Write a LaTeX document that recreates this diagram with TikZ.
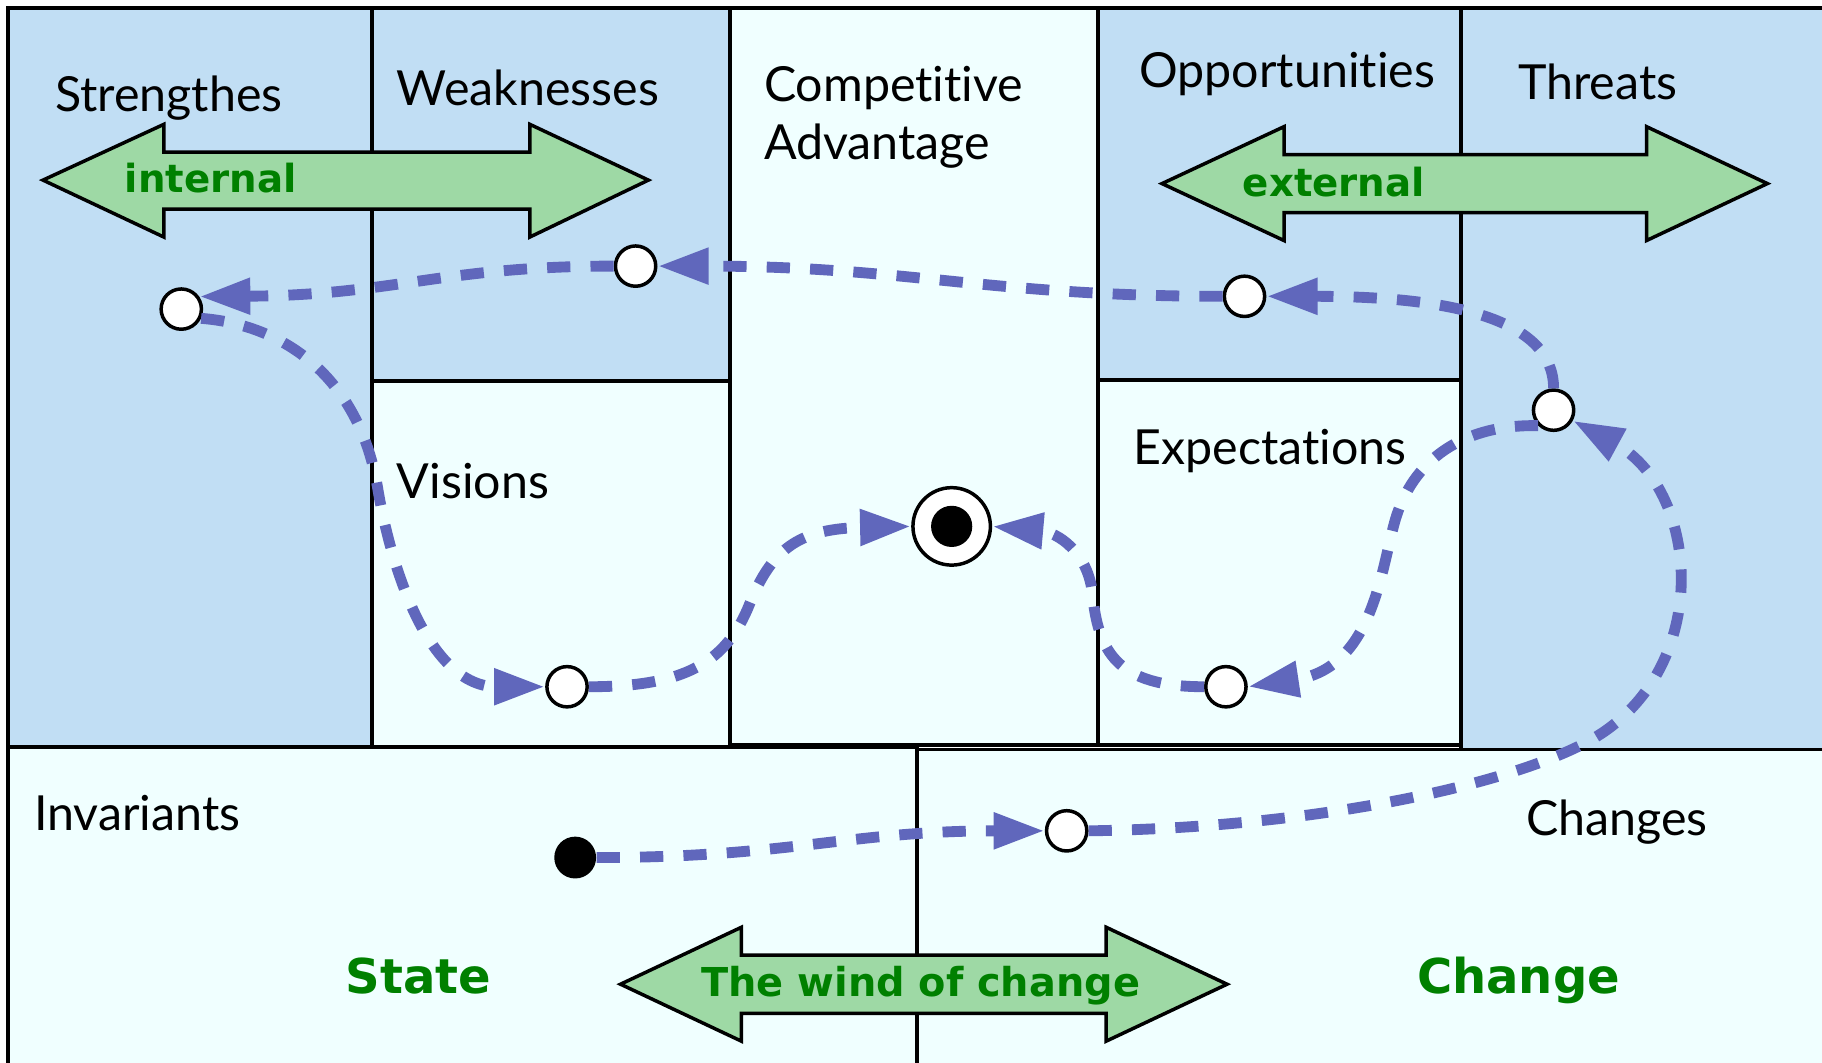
\documentclass[tikz,border=0pt]{standalone}
\usepackage{fontspec}
\setmainfont{Lato}[Ligatures={NoCommon,NoContextual}]
\newfontfamily\greenfont{DejaVu Sans}
\usetikzlibrary{arrows.meta}

\definecolor{swotblue}{RGB}{193,222,244}
\definecolor{azurefill}{RGB}{240,255,255}
\definecolor{arrowgreen}{RGB}{158,217,165}
\definecolor{textgreen}{RGB}{0,128,0}
\definecolor{flowblue}{RGB}{96,103,188}

\tikzset{every picture/.style={line width=0.75pt}}
\tikzset{
  bluebox/.style={fill=swotblue, draw=black, line width=2.5pt},
  lightbox/.style={fill=azurefill, draw=black, line width=2.5pt},
  bigarrow/.style={fill=arrowgreen, draw=black, line width=2.25pt, line join=miter},
  txt/.style={anchor=base west, inner sep=0pt, font=\fontsize{31.2}{37}\selectfont},
  greentxt/.style={anchor=base west, inner sep=0pt, text=textgreen, font=\greenfont\bfseries\fontsize{25}{30}\selectfont},
  bigtxt/.style={greentxt, font=\greenfont\bfseries\fontsize{31}{37}\selectfont},
  state/.style={circle, draw=black, fill=white, line width=2.25pt, minimum size=26pt, inner sep=0pt},
  flow/.style={draw=flowblue, line width=7pt, dash pattern=on 15pt off 13pt, -{Triangle[length=33pt,width=22pt]}}
}

\begin{document}
\begin{tikzpicture}[x=0.75pt,y=0.75pt,yscale=-1,xscale=1]
%set diagram to 1568 x 914
\useasboundingbox (0,0) rectangle (1568,914);

% Shape: Rectangle
\draw[bluebox] (7,7) rectangle (320,643);
\draw[bluebox] (320,7) rectangle (628,328);
\draw[lightbox] (320,328) rectangle (628,643);
\draw[lightbox] (628,7) rectangle (945,641);
\draw[bluebox] (945,7) rectangle (1257,327);
\draw[lightbox] (945,327) rectangle (1257,641);
\draw[bluebox] (1257,7) rectangle (1575,645);
\draw[lightbox] (7,643) rectangle (789,917);
\draw[lightbox] (789,645) rectangle (1575,917);

% Double Arrow
\draw[bigarrow] (37,155) -- (141,107) -- (141,131) -- (456,131) -- (456,107) -- (558,155) -- (456,204) -- (456,180) -- (141,180) -- (141,204) -- cycle;
\draw[bigarrow] (1000,158) -- (1105,109) -- (1105,133) -- (1417,133) -- (1417,109) -- (1521,158) -- (1417,207) -- (1417,183) -- (1105,183) -- (1105,207) -- cycle;
\draw[bigarrow] (534,847) -- (638,798) -- (638,822) -- (952,822) -- (952,798) -- (1056,847) -- (952,896) -- (952,872) -- (638,872) -- (638,896) -- cycle;

% Text Node
\node[txt] (strengthes) at (47,96) {Strengthes};
\node[txt] (weaknesses) at (341,91) {Weaknesses};
\node[txt] (competitive) at (657,87) {Competitive};
\node[txt] (advantage) at (657,137) {Advantage};
\node[txt] (opportunities) at (980,75) {Opportunities};
\node[txt] (threats) at (1306,86) {Threats};
\node[txt] (visions) at (341,429) {Visions};
\node[txt] (expectations) at (975,400) {Expectations};
\node[txt] (invariants) at (29,715) {Invariants};
\node[txt] (changes) at (1313,719) {Changes};
\node[greentxt] (internal) at (107,166) {internal};
\node[greentxt] (external) at (1069,169) {external};
\node[greentxt, font=\greenfont\bfseries\fontsize{25.7}{30}\selectfont] (wind) at (603,858) {The wind of change};
\node[bigtxt] (statetxt) at (297,855) {State};
\node[bigtxt] (changetxt) at (1219,855) {Change};

% States
\node[state] (ss) at (156,266) {};
\node[state] (sw) at (547,229) {};
\node[state] (so) at (1071,255) {};
\node[state] (st) at (1337,353) {};
\node[state] (sv) at (488,591) {};
\node[state] (se) at (1055,591) {};
\node[state] (sc) at (918,715) {};
\node[circle, fill=black, minimum size=27pt, inner sep=0pt] (start) at (495,738) {};
\node[state, minimum size=50pt] (goal) at (819,453) {};
\node[circle, fill=black, minimum size=26.6pt, inner sep=0pt] (goaldot) at (819,453) {};

% Connection
\draw[flow] (start.east) .. controls (680,738) and (730,715) .. (sc.west);
\draw[flow] (sc.east) .. controls (1150,712) and (1323,669) .. (1380,630) .. controls (1475,565) and (1460,420) .. (st);
\draw[flow] (st.north) .. controls (1337,275) and (1250,255) .. (so.east);
\draw[flow] (so.west) .. controls (850,255) and (780,229) .. (sw.east);
\draw[flow] (sw.west) .. controls (380,229) and (340,254) .. (ss.35);
\draw[flow] (ss.-25) .. controls (250,280) and (310,330) .. (325,420) .. controls (337,492) and (370,591) .. (sv.west);
\draw[flow] (sv.east) .. controls (590,591) and (625,570) .. (645,520) .. controls (665,470) and (690,455) .. (goal.west);
\draw[flow] (st.-135) .. controls (1260,365) and (1215,395) .. (1200,450) .. controls (1188,494) and (1180,575) .. (se.east);
\draw[flow] (se.west) .. controls (960,591) and (945,560) .. (940,510) .. controls (936,475) and (910,458) .. (goal.east);

\end{tikzpicture}
\end{document}
